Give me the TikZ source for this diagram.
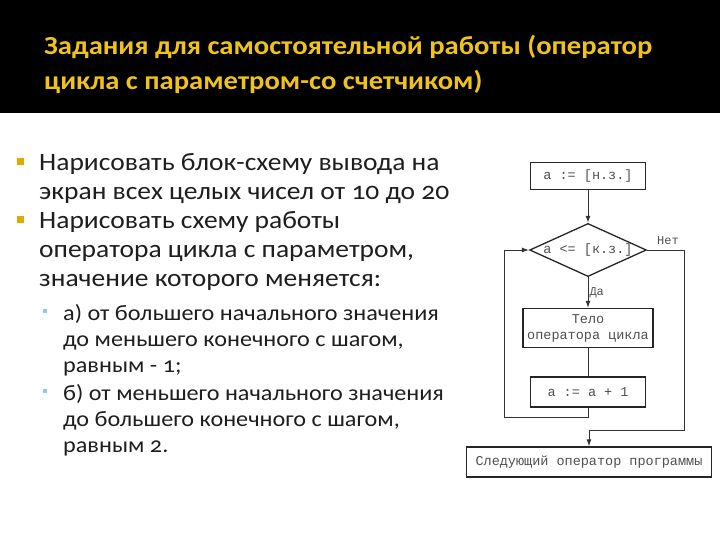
\documentclass[tikz,border=0pt]{standalone}
\usepackage{fontspec}
\setmainfont[Numbers=OldStyle, FakeStretch=1.1]{Carlito}
\newfontfamily\flowfont{Liberation Mono}
\usetikzlibrary{shapes.geometric,positioning,arrows.meta}
\definecolor{titleyellow}{HTML}{F0C31A}
\definecolor{bulletgold}{HTML}{E3A900}
\definecolor{bulletblue}{HTML}{8FCBDD}
\definecolor{bodygray}{HTML}{1E1E1E}
\definecolor{flowgray}{HTML}{505050}
\tikzset{titletext/.style = {text=titleyellow, font=\bfseries\fontsize{26}{35}\selectfont,
    align=left, anchor=north west, inner sep=0pt},
  bodytext/.style = {text=bodygray, font=\fontsize{25}{29}\selectfont,
    align=left, anchor=north west, inner sep=0pt},
  subtext/.style = {text=bodygray, font=\fontsize{22}{26}\selectfont,
    align=left, anchor=north west, inner sep=0pt},
  mainbullet/.style = {rectangle, fill=bulletgold, minimum size=7pt, inner sep=0pt},
  subbullet/.style = {rectangle, fill=bulletblue, minimum size=4.5pt, inner sep=0pt},
  block/.style = {rectangle, draw=black!85, line width=1.3pt, fill=white, inner sep=0pt,
    font=\flowfont\fontsize{13.5}{16}\selectfont, text=flowgray, align=center},
  decision/.style = {diamond, draw=black!85, line width=1.3pt, fill=white, inner sep=0pt,
    aspect=2.2, minimum width=116pt, minimum height=53pt,
    font=\flowfont\fontsize{13.5}{16}\selectfont, text=flowgray},
  link/.style = {draw=black!80, line width=1pt, >={Latex[length=7pt,width=5pt]}},
  flowlabel/.style = {font=\flowfont\fontsize{12}{14}\selectfont, text=flowgray, inner sep=1pt}}

\begin{document}
\begin{tikzpicture}[x=1pt, y=-1pt]
  \useasboundingbox (0,0) rectangle (720,540);
  \fill[black] (0,0) rectangle (720,113);

  \node[titletext] (title) at (44,35) {Задания для самостоятельной работы (оператор\\цикла с параметром-со счетчиком)};

  % tasks
  \node[bodytext] (task1) at (39,153) {Нарисовать блок-схему вывода на\\экран всех целых чисел от 10 до 20};
  \node[bodytext] (task2) at (39,211) {Нарисовать схему работы\\оператора цикла с параметром,\\значение которого меняется:};
  \node[mainbullet] (dot1) at (20,162) {};
  \node[mainbullet] (dot2) at (20,220) {};

  \node[subtext] (caseA) at (63,304) {а) от большего начального значения\\до меньшего конечного с шагом,\\равным - 1;};
  \node[subtext] (caseB) at (63,384) {б) от меньшего начального значения\\до большего конечного с шагом,\\равным 2.};
  \node[subbullet] (dotA) at (45,311) {};
  \node[subbullet] (dotB) at (45,391) {};

  % flowchart
  \node[block, minimum width=115pt, minimum height=27pt] (init) at (588,176) {а := [н.з.]};
  \node[decision] (cond) at (588,250) {а <= [к.з.]};
  \node[block, minimum width=130pt, minimum height=39pt] (body) at (588,328) {Тело\\оператора цикла};
  \node[block, minimum width=115pt, minimum height=30pt] (incr) at (588,392) {а := а + 1};
  \node[block, minimum width=245pt, minimum height=30pt] (next) at (589,462) {Следующий оператор программы};

  \coordinate (loopL) at (504,417);
  \coordinate (exitR) at (684,430);

  \draw[link,->] (init) -- (cond);
  \draw[link,->] (cond) -- node[flowlabel, right] (yes) {Да} (body);
  \draw[link] (body) -- (incr);
  \draw[link,->] (incr.south) |- (loopL) |- (cond.west);
  \draw[link,->] (cond.east) -| (exitR) -| (next.north);
  \node[flowlabel] (no) at (668,241) {Нет};
\end{tikzpicture}
\end{document}
